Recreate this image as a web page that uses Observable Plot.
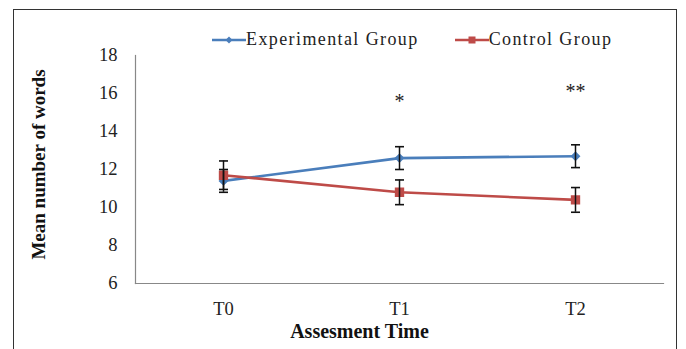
<!DOCTYPE html>
<html><head><meta charset="utf-8">
<script src="https://cdn.jsdelivr.net/npm/d3@7"></script>
<script src="https://cdn.jsdelivr.net/npm/@observablehq/plot@0.6"></script>
<style>
html,body{margin:0;padding:0;background:#fff;}
#wrap{position:relative;width:686px;height:349px;overflow:hidden;font-family:"Times New Roman","Liberation Serif",serif;}
#frame{position:absolute;left:13px;top:9px;width:664px;height:360px;border:1.5px solid #333;box-sizing:border-box;}
#legend{position:absolute;top:29px;left:212px;font-size:18px;color:#222;display:flex;gap:36px;white-space:nowrap;}
#legend span{display:inline-flex;align-items:center;}
#chart{position:absolute;left:0;top:0;}
</style></head>
<body><div id="wrap"><div id="frame"></div><div id="chart"></div><div id="legend"></div></div>
<script>
const times = ["T0", "T1", "T2"];
const seriesNames = ["Experimental Group", "Control Group"];
const experimental = [11.4, 12.6, 12.7];
const experimentalErr = [0.6, 0.6, 0.6];
const control = [11.7, 10.8, 10.4];
const controlErr = [0.75, 0.65, 0.65];
const yTicks = [6, 8, 10, 12, 14, 16, 18];
const significance = [{t: "T1", label: "*", y: 15.6}, {t: "T2", label: "**", y: 16.1}];
const colors = ["#4a7ebb", "#be4b48"];

const rows = [];
times.forEach((t, i) => {
  rows.push({time: t, series: seriesNames[0], value: experimental[i], err: experimentalErr[i]});
  rows.push({time: t, series: seriesNames[1], value: control[i], err: controlErr[i]});
});
const caps = rows.flatMap(d => [{time: d.time, y: d.value - d.err}, {time: d.time, y: d.value + d.err}]);
const capSymbol = {draw(ctx, size) { const w = 4.5; ctx.moveTo(-w, 0); ctx.lineTo(w, 0); }};
const serif = "Times New Roman, Liberation Serif, serif";

const plot = Plot.plot({
  width: 686, height: 349,
  marginLeft: 135, marginRight: 23, marginTop: 55, marginBottom: 66,
  style: {fontFamily: serif, fontSize: "18px", color: "#222", background: "transparent"},
  x: {type: "point", domain: times, padding: 0.5, label: null},
  y: {domain: [6, 18], ticks: yTicks, label: null},
  color: {domain: seriesNames, range: colors},
  marks: [
    Plot.axisX({tickSize: 0, tickPadding: 18, fontSize: 18.5, fontFamily: serif}),
    Plot.axisY({ticks: yTicks, tickSize: 0, tickPadding: 18, fontSize: 18.5, fontFamily: serif}),
    Plot.frame({anchor: "left", stroke: "#888", strokeWidth: 1.2}),
    Plot.frame({anchor: "bottom", stroke: "#888", strokeWidth: 1.2}),
    Plot.line(rows, {x: "time", y: "value", z: "series", stroke: "series", strokeWidth: 2.6}),
    Plot.dot(rows.filter(d => d.series === seriesNames[0]), {x: "time", y: "value", symbol: "diamond2", fill: colors[0], stroke: colors[0], r: 3.5}),
    Plot.dot(rows.filter(d => d.series === seriesNames[1]), {x: "time", y: "value", symbol: "square2", fill: colors[1], stroke: colors[1], r: 5}),
    Plot.ruleX(rows, {x: "time", y1: d => d.value - d.err, y2: d => d.value + d.err, stroke: "#111", strokeWidth: 1.5}),
    Plot.dot(caps, {x: "time", y: "y", symbol: capSymbol, stroke: "#111", strokeWidth: 1.6, fill: "none", r: 3}),
    Plot.text(significance, {x: "t", y: "y", text: "label", fontSize: 20, fill: "#222", fontFamily: serif}),
    Plot.text(["Mean number of words"], {frameAnchor: "left", textAnchor: "middle", dx: -97, dy: -5, rotate: -90, fontWeight: "bold", fontSize: 19, fill: "#111", fontFamily: serif}),
    Plot.text(["Assesment Time"], {frameAnchor: "bottom", dx: -40, dy: 54, fontWeight: "bold", fontSize: 20, fill: "#111", fontFamily: serif})
  ]
});
document.getElementById("chart").appendChild(plot);

const legend = document.getElementById("legend");
seriesNames.forEach((name, i) => {
  const s = document.createElement("span");
  const marker = i === 0
    ? `<path d="M17,-3.5 L20.5,0 L17,3.5 L13.5,0Z" fill="${colors[i]}"/>`
    : `<rect x="13.5" y="-3.5" width="7" height="7" fill="${colors[i]}"/>`;
  s.innerHTML = `<svg width="34" height="12" viewBox="0 -6 34 12"><line x1="0" x2="34" y1="0" y2="0" stroke="${colors[i]}" stroke-width="2.6"/>${marker}</svg><span style="letter-spacing:1.4px">${name}</span>`;
  legend.appendChild(s);
});
</script></body></html>
